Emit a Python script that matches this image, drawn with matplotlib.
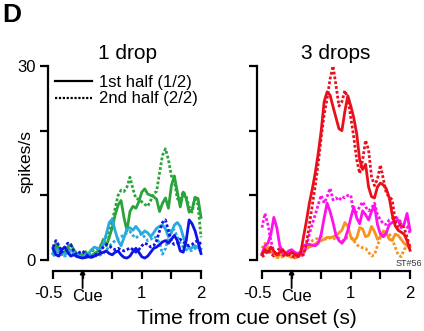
import numpy as np
import matplotlib
matplotlib.use('Agg')
import matplotlib.pyplot as plt
from matplotlib.lines import Line2D

plt.rcParams['font.family'] = ['Liberation Sans', 'DejaVu Sans']

# time bins (s from cue onset), 50 ms steps
t = np.linspace(-0.5, 2.0, 51)

# 1 drop
green_1st = [1.0, 2.2, 1.5, 0.8, 1.2, 2.0, 2.4, 1.6, 1.0, 0.9, 0.8, 1.3, 0.7, 0.6, 1.0, 1.3, 2.0,
             3.2, 2.2, 3.5, 5.0, 7.0, 8.5, 9.2, 6.5, 4.5, 7.5, 8.3, 8.0, 9.0, 10.5, 11.0, 10.2,
             10.0, 9.8, 9.4, 7.5, 8.8, 9.6, 8.0, 11.5, 13.0, 10.5, 8.2, 10.5, 9.5, 7.4, 7.8, 9.7,
             9.5, 6.6]
green_2nd = [1.5, 2.6, 2.0, 1.6, 1.2, 1.5, 1.8, 1.2, 0.8, 0.6, 0.5, 0.6, 0.9, 1.3, 1.6, 1.8, 2.2,
             2.8, 3.6, 4.6, 6.0, 8.0, 10.0, 10.8, 10.6, 11.3, 12.8, 11.0, 9.5, 9.4, 9.0, 8.6, 8.3,
             9.2, 10.3, 10.6, 13.5, 16.2, 17.2, 15.5, 13.0, 12.2, 9.5, 9.2, 10.6, 9.8, 8.2, 7.4,
             9.8, 8.5, 3.5]
cyan_1st = [1.0, 1.4, 1.8, 1.2, 0.9, 1.0, 1.5, 1.2, 0.8, 0.6, 0.5, 0.7, 1.0, 1.6, 2.0, 1.8, 1.6,
            2.5, 4.0, 5.8, 6.3, 4.5, 3.0, 2.2, 3.5, 4.8, 5.0, 4.6, 5.2, 4.6, 4.0, 4.5, 4.2, 3.6,
            4.2, 4.9, 5.2, 5.4, 4.8, 3.6, 4.2, 5.4, 5.8, 5.2, 3.6, 2.4, 1.8, 1.9, 2.2, 1.9, 1.7]
cyan_2nd = [0.6, 1.0, 1.4, 0.9, 0.6, 0.8, 1.2, 0.9, 0.5, 0.4, 0.4, 0.5, 0.6, 0.8, 0.7, 0.6, 0.8,
            1.0, 1.5, 2.1, 2.6, 3.0, 3.3, 3.6, 3.9, 4.2, 4.4, 3.8, 3.4, 3.8, 4.1, 3.5, 3.0, 3.2,
            3.6, 3.4, 2.6, 0.9, 1.8, 3.5, 4.9, 4.6, 3.6, 2.6, 2.0, 1.6, 1.4, 1.5, 1.8, 1.6, 1.5]
blue_1st = [1.8, 0.8, 0.6, 1.6, 2.0, 1.2, 0.6, 0.8, 0.6, 0.4, 0.3, 0.4, 0.5, 0.4, 0.6, 0.8, 1.0,
            1.2, 1.4, 1.0, 0.8, 1.2, 1.4, 0.8, 0.4, 0.3, 0.6, 1.3, 1.8, 1.2, 0.5, 0.3, 0.6, 1.2,
            1.8, 2.0, 2.4, 2.8, 3.0, 2.6, 3.2, 3.8, 3.0, 1.4, 1.2, 3.0, 6.2, 5.6, 4.5, 2.8, 1.0]
blue_2nd = [2.0, 3.0, 2.2, 1.2, 2.0, 2.6, 2.4, 1.4, 0.8, 1.2, 1.4, 0.9, 0.6, 0.5, 0.7, 1.0, 1.4,
            2.0, 2.4, 2.2, 1.8, 1.6, 1.8, 1.6, 1.4, 1.6, 1.9, 1.6, 1.2, 1.6, 2.2, 2.6, 2.4, 2.0,
            2.2, 3.0, 4.5, 5.8, 6.2, 4.5, 2.8, 2.4, 2.6, 3.2, 2.8, 2.4, 2.2, 2.4, 2.8, 3.0, 2.4]

# 3 drops
red_1st = [0.8, 1.6, 1.2, 2.0, 1.4, 0.8, 1.2, 1.6, 1.0, 0.8, 1.2, 0.9, 0.6, 1.0, 3.5, 6.0, 8.8,
           11.0, 13.5, 16.5, 20.0, 24.5, 26.0, 25.5, 23.7, 22.0, 20.3, 20.0, 23.0, 25.4, 23.8,
           22.0, 19.5, 15.5, 14.0, 14.8, 11.3, 9.8, 9.6, 11.3, 11.9, 11.6, 11.0, 9.6, 7.0, 5.3,
           4.6, 4.3, 4.0, 3.0, 1.5]
red_2nd = [0.5, 0.8, 1.5, 1.0, 0.6, 1.4, 1.8, 0.8, 0.5, 1.2, 0.6, 0.4, 0.5, 0.6, 0.8, 2.5, 5.5,
           8.5, 11.5, 15.0, 19.0, 22.5, 25.0, 28.0, 30.0, 27.0, 23.8, 24.5, 26.2, 25.0, 22.0,
           19.0, 15.5, 13.4, 15.5, 18.5, 17.0, 12.9, 11.5, 12.5, 14.7, 12.5, 10.3, 9.8, 9.3, 6.0,
           5.0, 5.6, 5.0, 3.5, 2.0]
magenta_1st = [1.0, 2.2, 2.6, 4.0, 6.6, 5.0, 2.2, 1.2, 1.0, 1.4, 1.6, 1.2, 1.0, 1.2, 2.2, 2.4,
               2.4, 2.3, 2.2, 2.6, 4.0, 6.5, 8.8, 7.5, 5.8, 3.8, 3.0, 2.6, 3.2, 4.6, 6.5, 8.2,
               6.5, 5.6, 7.6, 7.0, 6.2, 7.5, 8.4, 5.5, 4.0, 3.6, 4.2, 5.5, 5.8, 6.0, 6.2, 5.0,
               5.5, 7.2, 4.6]
magenta_2nd = [5.0, 7.2, 5.5, 3.0, 1.2, 1.0, 0.8, 1.0, 0.8, 1.4, 1.0, 0.8, 0.6, 0.7, 1.0, 2.0,
               4.0, 5.6, 7.0, 8.6, 10.0, 8.8, 9.8, 11.1, 9.3, 9.6, 9.2, 9.8, 9.6, 10.0, 10.0, 7.2,
               7.5, 8.2, 9.0, 8.2, 7.6, 8.0, 8.8, 7.0, 6.2, 5.6, 5.5, 6.2, 6.4, 6.7, 6.4, 5.8,
               5.5, 5.2, 4.2]
orange_1st = [1.0, 1.5, 2.0, 1.4, 0.8, 0.6, 0.8, 1.0, 0.8, 0.6, 0.5, 0.6, 0.8, 1.0, 1.3, 1.8,
              2.0, 2.2, 2.5, 2.8, 3.0, 3.2, 3.5, 3.4, 3.6, 3.8, 4.2, 4.6, 5.8, 5.2, 3.6, 3.0, 3.4,
              5.0, 4.8, 3.6, 3.8, 5.2, 4.4, 3.2, 3.6, 4.5, 4.2, 3.2, 3.0, 4.0, 3.8, 3.2, 2.6,
              2.2, 2.0]
orange_2nd = [1.8, 2.6, 2.0, 1.2, 0.8, 0.4, 0.3, 0.5, 0.8, 0.6, 0.4, 0.3, 0.4, 0.8, 1.2, 1.8,
              2.4, 3.0, 3.2, 3.4, 3.6, 3.3, 3.2, 3.5, 3.4, 3.2, 3.4, 3.0, 3.2, 3.5, 3.4, 3.0, 2.4,
              2.0, 1.9, 1.8, 1.2, 0.6, 0.8, 2.2, 3.5, 4.2, 4.4, 4.0, 3.2, 2.0, 0.8, 0.5, 1.6,
              2.2, 2.0]

xticks = [-0.5, 0, 0.5, 1, 1.5, 2]
yticks = [0, 10, 20, 30]

GREEN, CYAN, BLUE = '#2aa43a', '#2aa9e0', '#0c14e8'
RED, MAGENTA, ORANGE = '#e8101c', '#ff11ee', '#f7941e'
DOT = (0, (1.0, 0.75))
LW = 2.0

W, H = 424, 331
fig = plt.figure(figsize=(W / 100, H / 100), dpi=100)


def make_panel(x0, title, show_ylabels):
    ax = fig.add_axes([x0 / W, (H - 260) / H, 148 / W, 194 / H])
    ax.set_xlim(-0.5, 2)
    ax.set_ylim(0, 30)
    for s in ['top', 'right']:
        ax.spines[s].set_visible(False)
    ax.spines['left'].set_position(('outward', 3.6))
    ax.spines['bottom'].set_position(('outward', 8))
    for s in ['left', 'bottom']:
        ax.spines[s].set_linewidth(1.6)
    ax.tick_params(direction='out', length=5.5, width=1.6, labelsize=12, pad=3.6)
    ax.set_xticks(xticks)
    ax.set_xticklabels([])
    ax.set_yticks(yticks)
    ax.set_yticklabels(['0', '', '', '30'] if show_ylabels else [])
    # x tick labels placed by hand (-0.5 and Cue sit off their ticks)
    xt = ax.get_xaxis_transform()
    ax.text(-0.584, -0.175, '-0.5', transform=xt, ha='center', va='center', fontsize=12)
    ax.text(0.076, -0.19, 'Cue', transform=xt, ha='center', va='center', fontsize=12)
    ax.text(1, -0.175, '1', transform=xt, ha='center', va='center', fontsize=12)
    ax.text(2, -0.175, '2', transform=xt, ha='center', va='center', fontsize=12)
    # cue arrow
    ax.annotate('', xy=(0, -0.045), xytext=(0, -0.145), xycoords=xt, textcoords=xt,
                arrowprops=dict(arrowstyle='-|>', color='black', lw=1.3,
                                mutation_scale=7, shrinkA=0, shrinkB=0),
                annotation_clip=False)
    ax.set_title(title, fontsize=15, pad=4.8)
    return ax


ax1 = make_panel(53, '1 drop', True)
ax2 = make_panel(262, '3 drops', False)

# 1. Left panel: 1 drop
for vals, col, ls in [(green_1st, GREEN, '-'), (green_2nd, GREEN, DOT),
                      (cyan_1st, CYAN, '-'), (cyan_2nd, CYAN, DOT),
                      (blue_1st, BLUE, '-'), (blue_2nd, BLUE, DOT)]:
    ax1.plot(t, vals, color=col, ls=ls, lw=LW, clip_on=False)

# 2. Right panel: 3 drops
for vals, col, ls in [(orange_1st, ORANGE, '-'), (orange_2nd, ORANGE, DOT),
                      (magenta_1st, MAGENTA, '-'), (magenta_2nd, MAGENTA, DOT),
                      (red_1st, RED, '-'), (red_2nd, RED, DOT)]:
    ax2.plot(t, vals, color=col, ls=ls, lw=LW, clip_on=False)

# 3. Legend
handles = [Line2D([], [], color='black', lw=1.6),
           Line2D([], [], color='black', lw=1.6, ls=DOT)]
ax1.legend(handles, ['1st half (1/2)', '2nd half (2/2)'], loc='upper left',
           bbox_to_anchor=(0.0135, 0.955), frameon=False, borderpad=0, borderaxespad=0,
           fontsize=12, handlelength=2.2, handletextpad=0.45, labelspacing=0.1)

# 4. Labels and annotations
fig.text(26 / W, 1 - 162 / H, 'spikes/s', rotation=90, ha='center', va='center', fontsize=12.5)
fig.text(247 / W, 1 - 318 / H, 'Time from cue onset (s)', ha='center', va='center', fontsize=15)
fig.text(2 / W, 1 - 15 / H, 'D', ha='left', va='center', fontsize=19, fontweight='bold')
fig.text(422 / W, 1 - 264 / H, 'ST#56', ha='right', va='center', fontsize=6.5, color='#333333')

fig.savefig('out.png', dpi=100)
